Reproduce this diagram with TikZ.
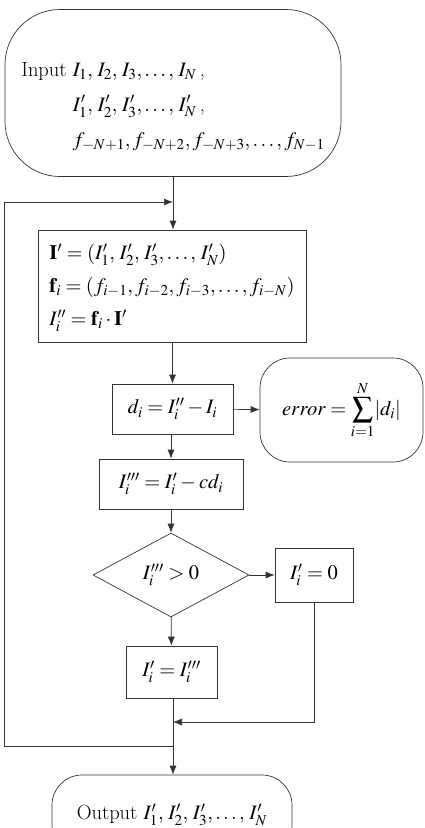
\documentclass[tikz,border=0pt]{standalone}
\usepackage{mathptmx}
\usepackage{amsmath}
\usetikzlibrary{shapes.geometric,arrows.meta}
\tikzset{
    every node/.style={draw=black!80, line width=0.7pt, inner sep=0pt,
    	font=\fontsize{20.5}{33}\selectfont}
}
\tikzset{
    term/.style={rectangle, rounded corners=30pt},
    proc/.style={rectangle},
    decide/.style={diamond},
    flow/.style={draw=black!80, line width=0.7pt, -{Latex[length=9pt,width=7pt]}}
}

\begin{document}
\begin{tikzpicture}[x=1pt,y=-1pt]
  \useasboundingbox (0,0) rectangle (424,828);

  \node (input) [term, rounded corners=55pt, minimum width=336pt, minimum height=167pt] at (173,93)
    {\begin{tabular}{@{}l@{\ }l@{}}
      \rule{0pt}{46pt}Input & $I_1,\, I_2,\, I_3,\ldots,\, I_N$\,,\\[2pt]
      & $I'_1,\, I'_2,\, I'_3,\ldots,\, I'_N$\,,\\[2pt]
      & $f_{-N+1}, f_{-N+2}, f_{-N+3},\ldots, f_{N-1}$
    \end{tabular}};

  \node (vec) [proc, minimum width=268pt, minimum height=112pt] at (172,286)
    {\begin{tabular}{@{}l@{}}
      $\mathbf{I}' = (I'_1,\, I'_2,\, I'_3,\ldots,\, I'_N)$\\
      $\mathbf{f}_i = (f_{i-1}, f_{i-2}, f_{i-3},\ldots, f_{i-N})$\\
      $I''_i = \mathbf{f}_i \cdot \mathbf{I}'$
    \end{tabular}};

  \node (diff) [proc, minimum width=121pt, minimum height=50pt] at (172.5,409) {$d_i = I''_i - I_i$};

  \node (err) [term, minimum width=163pt, minimum height=104pt] at (341.5,410)
    {$error = \displaystyle\sum_{i=1}^{N} \lvert d_i\rvert$};

  \node (upd) [proc, minimum width=144pt, minimum height=50pt] at (171,484) {$I'''_i = I'_i - c d_i$};

  \node (test) [decide, minimum width=156pt, minimum height=84pt] at (171,575) {$I'''_i > 0$};

  \node (zero) [proc, minimum width=78pt, minimum height=54pt] at (314,575) {$I'_i = 0$};

  \node (keep) [proc, minimum width=91pt, minimum height=52pt] at (171.5,672) {$I'_i = I'''_i$};

  \node (output) [term, minimum width=240pt, minimum height=80pt] at (172,815)
    {Output $I'_1,\, I'_2,\, I'_3,\ldots,\, I'_N$};

  \coordinate (back) at (173,202);
  \coordinate (merge) at (173,722);
  \coordinate (loop) at (173,746);
  \coordinate (lb) at (4,746);
  \coordinate (lt) at (4,202);

  \draw [flow] (input.south -| back) -- (vec.north -| back);
  \draw [flow] (loop) -- (lb) -- (lt) -- (back);
  \draw [flow] (vec.south -| diff) -- (diff);
  \draw [flow] (diff) -- (err);
  \draw [flow] (diff.south -| upd) -- (upd);
  \draw [flow] (upd) -- (test);
  \draw [flow] (test) -- (zero);
  \draw [flow] (test) -- (keep);
  \draw [flow] (zero.south) |- (merge);
  \draw [flow] (keep.south -| merge) -- (output.north -| merge);
\end{tikzpicture}
\end{document}
